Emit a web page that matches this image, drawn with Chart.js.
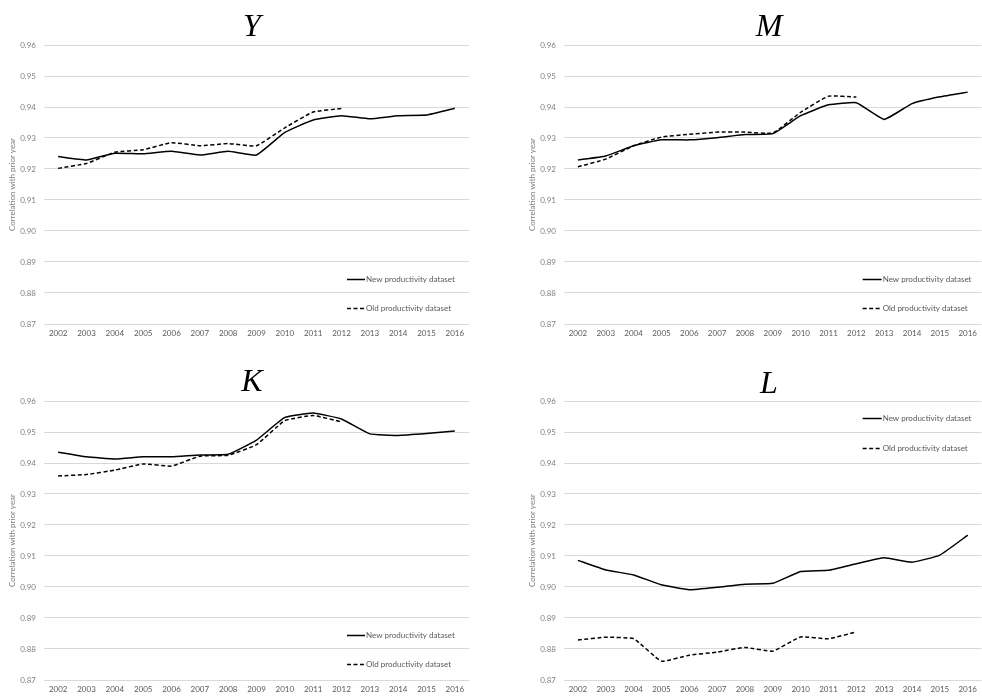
<!DOCTYPE html>
<html>
<head>
<meta charset="utf-8">
<script src="https://cdn.jsdelivr.net/npm/chart.js@4.4.1/dist/chart.umd.min.js"></script>
<style>
  html, body { margin: 0; padding: 0; background: #fff; }
  #wrap { position: relative; width: 982px; height: 700px; overflow: hidden; }
  .panel { position: absolute; width: 491px; height: 350px; }
  .panel canvas { position: absolute; left: 0; top: 0; }
  .ttl {
    position: absolute; transform: translateX(-50%);
    font-family: "Liberation Serif", "DejaVu Serif", serif;
    font-style: italic; font-size: 32px; line-height: 1; color: #000;
  }
</style>
</head>
<body>
<div id="wrap">
  <div class="panel" style="left:0;top:0"><canvas id="cY" width="491" height="350"></canvas></div>
  <div class="panel" style="left:491px;top:0"><canvas id="cM" width="491" height="350"></canvas></div>
  <div class="panel" style="left:0;top:350px"><canvas id="cK" width="491" height="350"></canvas></div>
  <div class="panel" style="left:491px;top:350px"><canvas id="cL" width="491" height="350"></canvas></div>
  <div class="ttl" style="left:252px;top:9px">Y</div>
  <div class="ttl" style="left:769px;top:9px">M</div>
  <div class="ttl" style="left:252px;top:364px">K</div>
  <div class="ttl" style="left:769px;top:366px">L</div>
</div>
<script>
// Years on the horizontal axis
const years = ['2002', '2003', '2004', '2005', '2006', '2007', '2008', '2009',
               '2010', '2011', '2012', '2013', '2014', '2015', '2016'];

// Tick values on the vertical axis
const yTicks = [0.87, 0.88, 0.89, 0.90, 0.91, 0.92, 0.93, 0.94, 0.95, 0.96];

const seriesNames = ['New productivity dataset', 'Old productivity dataset'];
const yAxisTitle = 'Correlation with prior year';

// Y: correlation with prior year
const newY = [0.9240, 0.9229, 0.9251, 0.9249, 0.9257, 0.9245, 0.9257, 0.9245,
              0.9318, 0.9358, 0.9372, 0.9362, 0.9372, 0.9374, 0.9396];
const oldY = [0.9202, 0.9218, 0.9254, 0.9262, 0.9285, 0.9275, 0.9282, 0.9275,
              0.9333, 0.9384, 0.9395];

// M
const newM = [0.9229, 0.9242, 0.9275, 0.9294, 0.9294, 0.9301, 0.9311, 0.9314,
              0.9372, 0.9407, 0.9414, 0.9360, 0.9411, 0.9433, 0.9448];
const oldM = [0.9207, 0.9232, 0.9275, 0.9303, 0.9312, 0.9319, 0.9319, 0.9316,
              0.9383, 0.9435, 0.9432];

// K
const newK = [0.9435, 0.9420, 0.9413, 0.9420, 0.9420, 0.9426, 0.9428, 0.9474,
              0.9547, 0.9561, 0.9542, 0.9494, 0.9489, 0.9495, 0.9503];
const oldK = [0.9358, 0.9363, 0.9377, 0.9397, 0.9390, 0.9422, 0.9425, 0.9459,
              0.9537, 0.9553, 0.9533];

// L
const newL = [0.9086, 0.9055, 0.9039, 0.9007, 0.8991, 0.8999, 0.9009, 0.9012,
              0.9050, 0.9054, 0.9075, 0.9094, 0.9080, 0.9103, 0.9167];
const oldL = [0.8829, 0.8838, 0.8833, 0.8761, 0.8780, 0.8790, 0.8805, 0.8793,
              0.8839, 0.8833, 0.8855];

const FONT = 'Lato, "Open Sans", "Liberation Sans", sans-serif';

// Small legend drawn inside the plot area, anchored to its right edge
const cornerLegend = {
  id: 'cornerLegend',
  afterDatasetsDraw(chart, args, opts) {
    const { ctx, chartArea } = chart;
    const sets = chart.data.datasets;
    const x0 = chartArea.right - opts.fromRight;
    sets.forEach((ds, i) => {
      const y = opts.anchor === 'top'
        ? chartArea.top + opts.first + i * opts.gap
        : chartArea.bottom - opts.first - (sets.length - 1 - i) * opts.gap;
      ctx.save();
      ctx.strokeStyle = ds.borderColor;
      ctx.lineWidth = ds.borderWidth;
      ctx.setLineDash(ds.borderDash || []);
      ctx.beginPath();
      ctx.moveTo(x0, Math.round(y) + 0.5);
      ctx.lineTo(x0 + opts.lineLen, Math.round(y) + 0.5);
      ctx.stroke();
      ctx.setLineDash([]);
      ctx.fillStyle = '#595959';
      ctx.font = '8px ' + FONT;
      ctx.textBaseline = 'middle';
      ctx.textAlign = 'left';
      ctx.fillText(ds.label, x0 + opts.lineLen + 1, y + 0.5);
      ctx.restore();
    });
  }
};

function makeChart(id, newVals, oldVals, lay) {
  return new Chart(document.getElementById(id), {
    type: 'line',
    data: {
      labels: years,
      datasets: [
        { label: seriesNames[0], data: newVals, borderColor: '#000', borderWidth: 1.5,
          pointRadius: 0, tension: 0.12, fill: false },
        { label: seriesNames[1], data: oldVals, borderColor: '#000', borderWidth: 1.5,
          borderDash: [4, 2.5], pointRadius: 0, tension: 0.12, fill: false }
      ]
    },
    options: {
      responsive: false,
      animation: false,
      layout: { padding: lay.padding },
      plugins: {
        legend: { display: false },
        tooltip: { enabled: false },
        title: { display: false },
        cornerLegend: lay.legend
      },
      scales: {
        x: {
          type: 'category',
          offset: true,
          grid: { display: false, drawTicks: false },
          border: { display: false },
          ticks: { color: '#595959', font: { family: FONT, size: 8 }, padding: 5,
                   maxRotation: 0, autoSkip: false },
          afterFit(s) { s.height = 20; }
        },
        y: {
          min: yTicks[0],
          max: yTicks[yTicks.length - 1],
          afterBuildTicks(s) { s.ticks = yTicks.map(v => ({ value: v })); },
          grid: { color: '#d9d9d9', lineWidth: 1, drawTicks: false },
          border: { display: false },
          ticks: { color: '#7f7f7f', font: { family: FONT, size: 8 }, padding: 8,
                   callback: v => Number(v).toFixed(2) },
          title: { display: true, text: yAxisTitle, color: '#7f7f7f',
                   font: { family: FONT, size: 8 }, padding: { top: lay.titlePad, bottom: 0 } },
          afterFit(s) { s.width = lay.yWidth; }
        }
      }
    },
    plugins: [cornerLegend]
  });
}

const bottomLegendLeft = { anchor: 'bottom', first: 16, gap: 29, fromRight: 122, lineLen: 18 };
const bottomLegendRight = { anchor: 'bottom', first: 16, gap: 29, fromRight: 119, lineLen: 19 };
const topLegendRight = { anchor: 'top', first: 17, gap: 30, fromRight: 119, lineLen: 19 };

makeChart('cY', newY, oldY, {
  padding: { left: 0, right: 22, top: 45, bottom: 6 }, yWidth: 44, titlePad: 8,
  legend: bottomLegendLeft
});
makeChart('cM', newM, oldM, {
  padding: { left: 28, right: 0, top: 45, bottom: 6 }, yWidth: 45, titlePad: 9,
  legend: bottomLegendRight
});
makeChart('cK', newK, oldK, {
  padding: { left: 0, right: 22, top: 51, bottom: 0 }, yWidth: 44, titlePad: 8,
  legend: bottomLegendLeft
});
makeChart('cL', newL, oldL, {
  padding: { left: 28, right: 0, top: 51, bottom: 0 }, yWidth: 45, titlePad: 9,
  legend: topLegendRight
});
</script>
</body>
</html>
